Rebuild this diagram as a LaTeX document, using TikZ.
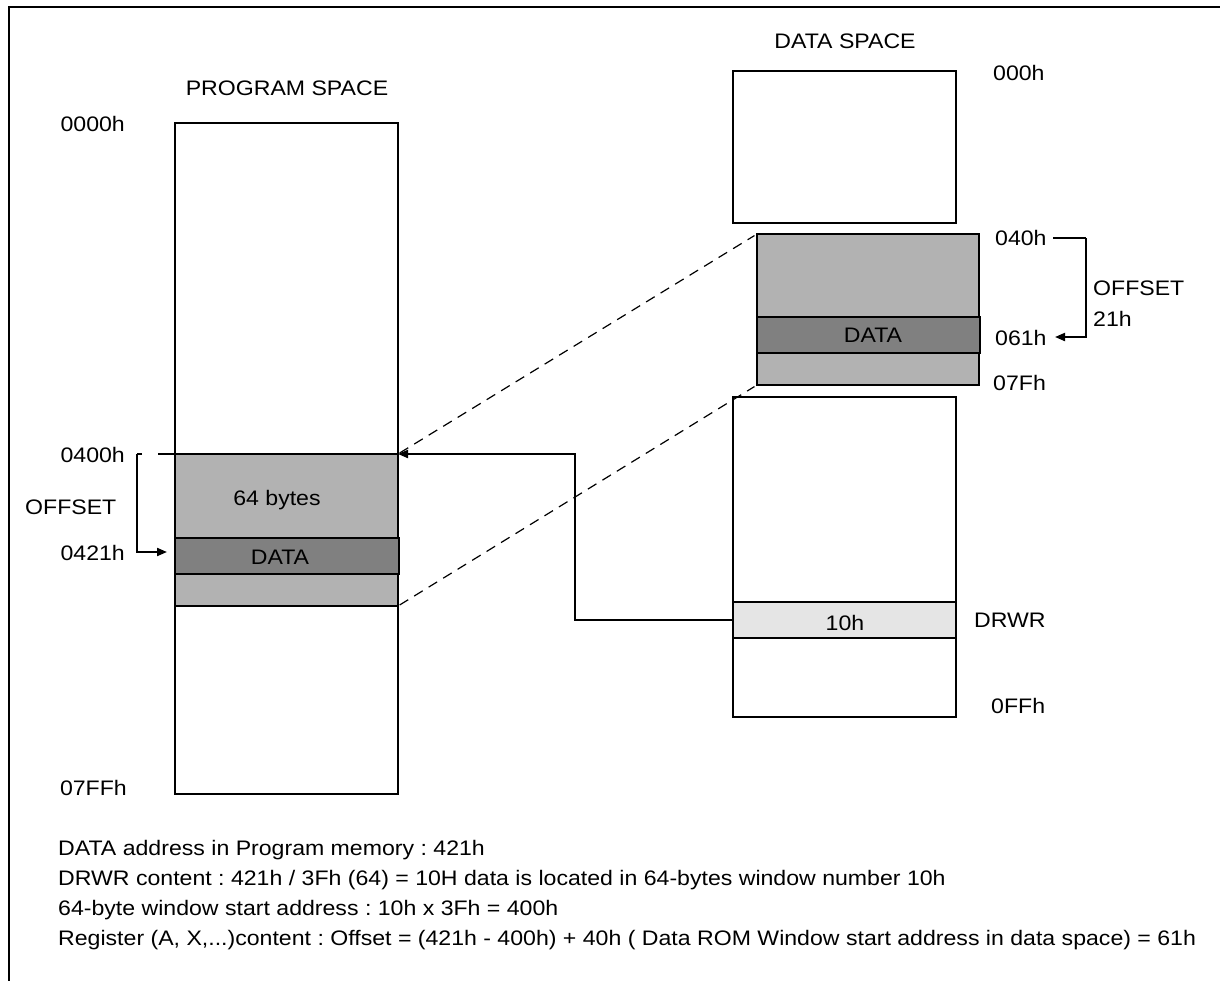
\documentclass[tikz,border=0pt]{standalone}
\usepackage{fontspec}
\setmainfont{Liberation Sans}[FakeStretch=1.1]
\usetikzlibrary{arrows.meta}
\newcommand\dfs{\fontsize{21}{25}\selectfont}
\definecolor{winfill}{gray}{0.70}
\definecolor{datfill}{gray}{0.50}
\definecolor{regfill}{gray}{0.90}
\tikzset{
  lbl/.style={font=\dfs, inner sep=0pt, anchor=base west},
  lblc/.style={font=\dfs, inner sep=0pt, anchor=base},
  lblr/.style={font=\dfs, inner sep=0pt, anchor=base east},
  memrect/.style={draw, line width=2pt, fill=white, anchor=north west, inner sep=0pt, outer sep=0pt},
  winrect/.style={memrect, fill=winfill},
  datrect/.style={memrect, fill=datfill, font=\dfs},
  regrect/.style={memrect, fill=regfill, font=\dfs},
  conn/.style={line width=2pt},
  dashconn/.style={line width=1.2pt, dash pattern=on 10pt off 7pt},
  tip/.style={-{Triangle[length=10pt,width=8pt]}}
}
\frenchspacing
\begin{document}
\begin{tikzpicture}[x=1pt,y=-1pt]
\useasboundingbox (0,0) rectangle (1220,980);
% outer frame (top and left edges visible)
\draw[line width=2pt] (9,985) -- (9,7) -- (1225,7);

% program space
\node[memrect, minimum width=223pt, minimum height=671pt] (prog) at (175,123) {};
\node[winrect, minimum width=223pt, minimum height=152pt] (pwin) at (175,454) {};
\node[datrect, minimum width=224pt, minimum height=36pt] (pdata) at (175,538) {};
\node[lblc] (pdatal) at (280,564) {DATA};
\node[lblc] (pbytes) at (277,505) {64 bytes};

% data space
\node[memrect, minimum width=223pt, minimum height=152pt] (dtop) at (733,71) {};
\node[winrect, minimum width=222pt, minimum height=151pt] (dwin) at (757,234) {};
\node[datrect, minimum width=223pt, minimum height=36pt] (ddata) at (757,317) {};
\node[lblc] (ddatal) at (873,342) {DATA};
\node[memrect, minimum width=223pt, minimum height=320pt] (dlow) at (733,397) {};
\node[regrect, minimum width=223pt, minimum height=36pt] (drwr) at (733,602) {};
\node[lblc] (drwrl) at (845,630) {10h};

% labels program space
\node[lblc] (ptitle) at (287,95) {PROGRAM SPACE};
\node[lblr] (a0000) at (125,131) {0000h};
\node[lblr] (a0400) at (125,462) {0400h};
\node[lbl] (offl) at (25,514) {OFFSET};
\node[lblr] (a0421) at (125,560) {0421h};
\node[lblr] (a07ff) at (127,795) {07FFh};

% labels data space
\node[lblc] (dtitle) at (845,48) {DATA SPACE};
\node[lbl] (a000) at (993,80) {000h};
\node[lbl] (a040) at (995,245) {040h};
\node[lbl] (offr) at (1093,295) {OFFSET};
\node[lbl] (off21) at (1093,326) {21h};
\node[lbl] (a061) at (995,345) {061h};
\node[lbl] (a07f) at (993,390) {07Fh};
\node[lbl] (drwrn) at (974,627) {DRWR};
\node[lbl] (a0ff) at (991,713) {0FFh};

% connectors
\draw[dashconn, shorten <=2pt, shorten >=3pt] (pwin.north east) -- (dwin.north west);
\draw[dashconn, shorten <=2pt, shorten >=3pt] (pwin.south east) -- (dwin.south west);
\draw[conn, tip] (drwr.west) -- ++(-158,0) |- (pwin.north east);

\coordinate (lbtick) at (142,454);
\coordinate (lbcorner) at (137,454);
\coordinate (lbend) at (167,552);
\draw[conn] (lbtick) -- (lbcorner);
\draw[conn, tip] (lbcorner) |- (lbend);
\coordinate (lbline) at (158,454);
\draw[conn] (lbline) -- (pwin.north west);

\coordinate (rbstart) at (1053,238);
\coordinate (rbcorner) at (1086,238);
\coordinate (rbend) at (1055,337);
\draw[conn] (rbstart) -- (rbcorner);
\draw[conn, tip] (rbcorner) |- (rbend);

% notes
\node[lbl] (n1) at (58,855) {DATA address in Program memory : 421h};
\node[lbl] (n2) at (58,885) {DRWR content : 421h / 3Fh (64) = 10H data is located in 64-bytes window number 10h};
\node[lbl] (n3) at (58,915) {64-byte window start address : 10h x 3Fh = 400h};
\node[lbl] (n4) at (58,945) {Register (A, X,...)content : Offset = (421h - 400h) + 40h ( Data ROM Window start address in data space) = 61h};
\end{tikzpicture}
\end{document}
